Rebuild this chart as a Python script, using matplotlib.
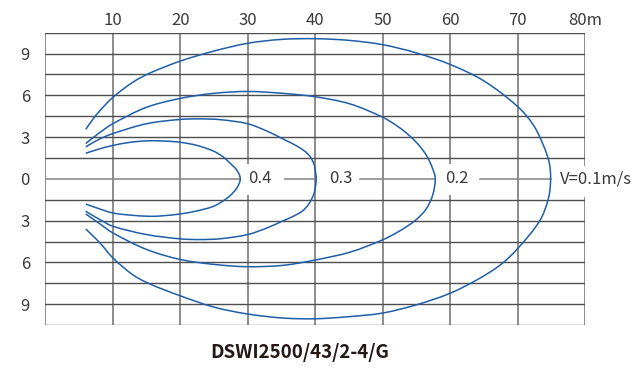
import matplotlib
matplotlib.use("Agg")
import matplotlib.pyplot as plt
import numpy as np
from matplotlib.path import Path
from matplotlib.patches import PathPatch

plt.rcParams['font.family'] = ['Noto Sans CJK SC', 'DejaVu Sans']

# velocity isolines (x in m, y in m), top half then bottom half
v01_x = [6.0, 7, 8.1, 10, 13, 15.5, 20, 24.9, 30, 35, 40, 45, 50, 55, 60, 65, 70, 72.3, 73.8, 74.7, 74.9,
         74.6, 73.3, 70, 67.4, 64, 60, 55, 50, 45, 40, 35.3, 30, 24.9, 20, 15.5, 13, 10, 8.1, 6.0]
v01_y = [3.55, 4.25, 4.9, 5.85, 6.95, 7.6, 8.46, 9.17, 9.74, 10.02, 10.07, 9.95, 9.64, 9.05, 8.22, 7.04, 5.2, 3.9, 2.45, 1.15, 0,
         -1.35, -3.0, -5.02, -6.2, -7.25, -8.22, -9.05, -9.64, -9.9, -10.05, -10.0, -9.71, -9.2, -8.4, -7.55, -6.9, -5.67, -4.6, -3.6]

v02_x = [6.0, 8, 10, 15, 20, 24.9, 30, 35.3, 40, 45.2, 50, 52.3, 54.1, 55.5, 56.6, 57.4, 57.8,
         57.4, 56.4, 54.8, 52.5, 50, 45.2, 40, 35.3, 30, 24.9, 20, 15, 10, 8, 6.0]
v02_y = [2.54, 3.3, 3.96, 5.14, 5.78, 6.14, 6.28, 6.14, 5.9, 5.38, 4.43, 3.75, 3.05, 2.35, 1.6, 0.75, 0,
         -1.2, -2.2, -3.0, -3.75, -4.38, -5.26, -5.83, -6.21, -6.31, -6.14, -5.79, -5.07, -3.88, -3.2, -2.52]

v03_x = [6.0, 8, 10, 15, 20, 22.9, 26, 30, 33, 35.3, 37.5, 39.0, 39.8, 40.1, 40.15,
         40.1, 39.8, 39.0, 38.0, 36.5, 35.3, 33, 30, 26, 22.9, 20, 15, 10, 8, 6.0]
v03_y = [2.3, 2.85, 3.25, 3.96, 4.27, 4.31, 4.25, 3.96, 3.4, 2.85, 2.3, 1.75, 1.1, 0.35, 0,
         -0.4, -1.1, -1.85, -2.35, -2.75, -3.0, -3.5, -4.0, -4.3, -4.36, -4.31, -4.0, -3.4, -2.9, -2.33]

v04_x = [6.0, 8, 10, 12.5, 15, 17.5, 20, 22.5, 24.9, 26.3, 27.4, 28.4, 28.9,
         28.4, 27.4, 26.3, 24.9, 22.5, 20, 17.5, 15.5, 12.5, 10, 8, 6.0]
v04_y = [1.84, 2.15, 2.4, 2.62, 2.73, 2.72, 2.63, 2.4, 2.0, 1.6, 1.12, 0.62, 0,
         -0.65, -1.2, -1.6, -1.98, -2.3, -2.52, -2.65, -2.69, -2.6, -2.45, -2.15, -1.81]

x_ticks = [10, 20, 30, 40, 50, 60, 70, 80]
x_labels = ['10', '20', '30', '40', '50', '60', '70', '80m']
y_ticks = [9, 6, 3, 0, -3, -6, -9]
y_labels = ['9', '6', '3', '0', '3', '6', '9']
curve_labels = ['0.4', '0.3', '0.2', 'V=0.1m/s']
label_x = [30.0, 42.0, 59.2, 76.3]

# one y unit is about twice as tall on screen as one x unit is wide
ASPECT = 2.09


def smooth_path(xs, ys):
    # bezier through the read points; tangent from neighbours, handle = chord/3 (screen space)
    p = np.column_stack([np.asarray(xs, float), np.asarray(ys, float) * ASPECT])
    n = len(p)
    tang = np.zeros_like(p)
    for i in range(n):
        a = p[max(i - 1, 0)]
        b = p[min(i + 1, n - 1)]
        d = b - a
        tang[i] = d / np.hypot(*d)
    verts = [p[0]]
    codes = [Path.MOVETO]
    for i in range(n - 1):
        L = np.hypot(*(p[i + 1] - p[i])) / 3
        verts += [p[i] + tang[i] * L, p[i + 1] - tang[i + 1] * L, p[i + 1]]
        codes += [Path.CURVE4] * 3
    verts = np.array(verts)
    verts[:, 1] /= ASPECT
    return Path(verts, codes)


fig = plt.figure(figsize=(6.35, 3.68), dpi=100)
ax = fig.add_axes([0.0713, 0.1168, 0.85, 0.7943])
ax.set_xlim(0, 80)
ax.set_ylim(-10.5, 10.5)
for s in ax.spines.values():
    s.set_visible(False)

h_c = '#4d4d4d'
v_c = '#8c8c8c'
# horizontal grid (no line through the middle row except the label leaders)
for yy in [1.5, 3, 4.5, 6, 7.5, 9, 10.5]:
    ax.plot([0, 80], [yy, yy], color=h_c, lw=1.0, zorder=2)
    ax.plot([0, 80], [-yy, -yy], color=h_c, lw=1.0, zorder=2)
# vertical grid, some broken by the labels on the middle row
for xx in [0, 10, 20, 40, 50, 70]:
    ax.plot([xx, xx], [-10.5, 10.5], color=v_c, lw=1.4, zorder=1)
for xx in [30, 60]:
    ax.plot([xx, xx], [1.15, 10.5], color=v_c, lw=1.4, zorder=1)
    ax.plot([xx, xx], [-10.5, -1.2], color=v_c, lw=1.4, zorder=1)
ax.plot([80, 80], [1.0, 10.5], color=v_c, lw=1.4, zorder=1)
ax.plot([80, 80], [-10.5, -1.35], color=v_c, lw=1.4, zorder=1)

# leaders on y=0
ax.plot([0, 28.9], [0, 0], color=v_c, lw=1.2, zorder=1)
ax.plot([35.5, 40.1], [0, 0], color=v_c, lw=1.2, zorder=1)
ax.plot([46.7, 57.8], [0, 0], color=v_c, lw=1.2, zorder=1)
ax.plot([64.5, 74.9], [0, 0], color=v_c, lw=1.2, zorder=1)

blue = '#1f5ea8'
for cx, cy in [(v01_x, v01_y), (v02_x, v02_y), (v03_x, v03_y), (v04_x, v04_y)]:
    ax.add_patch(PathPatch(smooth_path(cx, cy), facecolor='none', edgecolor=blue,
                           lw=1.1, zorder=3))

for lab, lx in zip(curve_labels, label_x):
    ax.text(lx, 0, lab, ha='left', va='center', fontsize=12, color='#3a3a3a',
            clip_on=False)

ax.xaxis.tick_top()
ax.set_xticks(x_ticks)
ax.set_xticklabels(x_labels)
ax.set_yticks(y_ticks)
ax.set_yticklabels(y_labels)
ax.tick_params(length=0, labelsize=12, colors='#3a3a3a')
ax.tick_params(axis='x', pad=3)
ax.tick_params(axis='y', pad=11)

fig.text(0.472, 0.043, 'DSWI2500/43/2-4/G', ha='center', va='center',
         fontsize=13.5, fontweight='bold', color='#231815')

fig.savefig('out.png', dpi=100)
